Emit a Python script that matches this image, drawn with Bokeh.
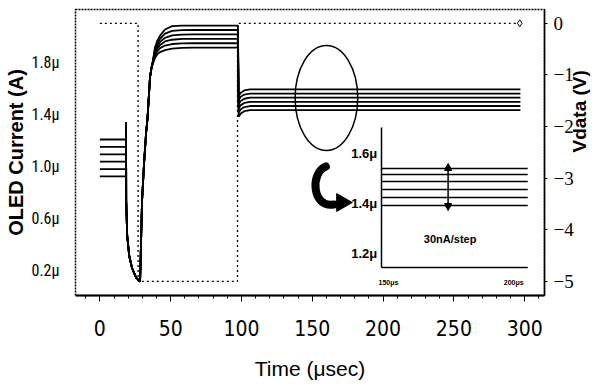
import math
from bokeh.plotting import figure
from bokeh.models import Range1d, LinearAxis, FixedTicker, Arrow, NormalHead
from bokeh.core.properties import value
from bokeh.embed import file_html
from bokeh.resources import INLINE

COND_X = "DejaVu Sans Condensed"
COND_L = "Roboto Condensed"
COND_R = "Noto Sans Condensed"
SANS = "Liberation Sans"

# ---------------- data (time in usec, current in uA, Vdata in V) ----------------
x_ticks = [0, 50, 100, 150, 200, 250, 300]
i_ticks = [0.2, 0.6, 1.0, 1.4, 1.8]
i_tick_labels = ["0.2\u03bc", "0.6\u03bc", "1.0\u03bc", "1.4\u03bc", "1.8\u03bc"]
v_ticks = [0, -1, -2, -3, -4, -5]

# Vdata (dotted trace, right axis)
vd_t = [0.0, 27.0, 27.0, 97.2, 97.2, 296.5]
vd_v = [0.0, 0.0, -5.0, -5.0, 0.0, 0.0]

# OLED current, 6 curves (bottom -> top)
stub_levels = [0.921, 0.978, 1.035, 1.092, 1.149, 1.206]
stub_t = [0.0, 18.5]
fall_t = [18.5, 18.6, 19.3, 20.7, 22.8, 25.6, 28.4]
fall_i = [1.337, 0.736, 0.466, 0.312, 0.212, 0.142, 0.111]
rise_t = [29.0, 29.8, 31.2, 32.6, 33.7, 35.4, 36.5]
rise_i = [0.38, 0.736, 1.02, 1.25, 1.375, 1.684, 1.76]
tail_t = [37.5, 38.9, 40.5, 42.5, 46.0, 51.0, 58.0, 66.0, 97.5]
tail_i = [
    [1.790, 1.835, 1.862, 1.880, 1.895, 1.906, 1.912, 1.914, 1.914],
    [1.797, 1.850, 1.885, 1.910, 1.930, 1.942, 1.947, 1.948, 1.948],
    [1.803, 1.866, 1.905, 1.935, 1.962, 1.975, 1.981, 1.982, 1.982],
    [1.807, 1.882, 1.925, 1.958, 1.990, 2.008, 2.015, 2.016, 2.016],
    [1.811, 1.898, 1.945, 1.982, 2.022, 2.043, 2.049, 2.050, 2.050],
    [1.815, 1.915, 1.965, 2.007, 2.054, 2.080, 2.084, 2.084, 2.084],
]
drop_t = [98.0, 99.5, 102.0, 106.0, 297.0]
drop_i = [
    [1.382, 1.407, 1.424, 1.432, 1.432],
    [1.414, 1.439, 1.456, 1.464, 1.464],
    [1.446, 1.471, 1.488, 1.496, 1.496],
    [1.478, 1.503, 1.520, 1.528, 1.528],
    [1.510, 1.535, 1.552, 1.560, 1.560],
    [1.542, 1.567, 1.584, 1.592, 1.592],
]

# inset (zoom of the settled region)
inset_levels = [1.392, 1.424, 1.456, 1.488, 1.516, 1.540]
inset_span = [147.2, 205.6]
inset_i_ticks = [1.6, 1.4, 1.2]
inset_i_labels = ["1.6\u03bc", "1.4\u03bc", "1.2\u03bc"]
inset_t_ticks = [150, 200]
inset_t_labels = ["150\u03bcs", "200\u03bcs"]
inset_note = "30nA/step"

# ---------------- figure ----------------
p = figure(width=603, height=384,
           x_range=Range1d(-17.2, 314.0), y_range=Range1d(0.0035, 2.208),
           output_backend="svg", toolbar_location=None,
           min_border_left=75, min_border_right=56, min_border_top=9, min_border_bottom=89)
p.extra_y_ranges = {"vdata": Range1d(-5.275, 0.267), "iy": Range1d(1.032, 2.176)}
p.extra_x_ranges = {"ix": Range1d(25.0, 212.3)}
p.grid.visible = False
p.background_fill_color = "white"
p.border_fill_color = "white"
p.outline_line_color = "black"
p.outline_line_width = 1.5
p.outline_line_dash = "2 1"

xa = p.xaxis[0]
xa.ticker = FixedTicker(ticks=x_ticks, minor_ticks=list(range(-10, 311, 10)))
xa.axis_line_width = 2
xa.major_tick_out = 6
xa.major_tick_in = 0
xa.minor_tick_out = 3
xa.minor_tick_in = 0
xa.major_label_text_font = COND_X
xa.major_label_text_font_size = "21px"
xa.major_label_text_color = "black"
xa.major_label_standoff = 18
xa.axis_label = "Time (\u03bcsec)"
xa.axis_label_text_font = SANS
xa.axis_label_text_font_size = "21px"
xa.axis_label_text_font_style = "normal"
xa.axis_label_text_color = "black"
xa.axis_label_standoff = 18

ya = p.yaxis[0]
ya.ticker = FixedTicker(ticks=i_ticks, minor_ticks=[])
ya.major_label_overrides = {t: l for t, l in zip(i_ticks, i_tick_labels)}
ya.axis_line_color = None
ya.major_tick_out = 0
ya.major_tick_in = 0
ya.minor_tick_out = 0
ya.minor_tick_in = 0
ya.major_label_text_font = COND_L
ya.major_label_text_font_size = "16px"
ya.major_label_text_color = "black"
ya.major_label_standoff = 16
ya.axis_label = "OLED Current (A)"
ya.axis_label_text_font = SANS
ya.axis_label_text_font_size = "20px"
ya.axis_label_text_font_style = "bold"
ya.axis_label_text_color = "black"
ya.axis_label_standoff = 2

ra = LinearAxis(y_range_name="vdata", ticker=FixedTicker(ticks=v_ticks, minor_ticks=[]))
ra.axis_line_width = 1.5
ra.major_tick_out = 3
ra.major_tick_in = 0
ra.minor_tick_out = 0
ra.minor_tick_in = 0
ra.major_label_text_font = COND_R
ra.major_label_text_font_size = "19px"
ra.major_label_text_color = "black"
ra.major_label_standoff = 6
ra.axis_label = "Vdata (V)"
ra.axis_label_text_font = SANS
ra.axis_label_text_font_size = "19px"
ra.axis_label_text_font_style = "bold"
ra.axis_label_text_color = "black"
ra.axis_label_standoff = 3
ra.axis_label_orientation = math.pi / 2
p.add_layout(ra, "right")

# Vdata dotted trace
p.line(vd_t, vd_v, y_range_name="vdata", line_color="black", line_width=1.3, line_dash="2 3")
p.scatter([vd_t[-1]], [vd_v[-1]], y_range_name="vdata", marker="diamond", size=7,
          fill_color="white", line_color="black", line_width=1)

# current curves
for k in range(6):
    t = stub_t + fall_t + rise_t + tail_t + drop_t
    i = [stub_levels[k], stub_levels[k]] + fall_i + rise_i + tail_i[k] + drop_i[k]
    p.line(t, i, line_color="black", line_width=1.8)

# ellipse highlight
p.ellipse(x=[160.0], y=[1.526], width=44.2, height=0.809,
          fill_color=None, line_color="black", line_width=1.5)

# curved arrow
p.bezier(x0=[159.6], y0=[0.998], x1=[165.3], y1=[0.705],
         cx0=[148.4], cy0=[0.951], cx1=[149.8], cy1=[0.674],
         line_color="black", line_width=8, line_cap="round")
p.scatter([170.9], [0.720], marker="triangle", size=18, angle=-math.pi / 2,
          fill_color="black", line_color="black")

# inset
p.line([inset_span[0], inset_span[0]], [1.144, 1.704], x_range_name="ix", y_range_name="iy",
       line_color="black", line_width=1.5)
p.line(inset_span, [1.144, 1.144], x_range_name="ix", y_range_name="iy",
       line_color="black", line_width=1.5)
for lv in inset_levels:
    p.line(inset_span, [lv, lv], x_range_name="ix", y_range_name="iy",
           line_color="black", line_width=1.5)
p.text(x=[145.5] * 3, y=inset_i_ticks, text=inset_i_labels, x_range_name="ix", y_range_name="iy",
       text_align="right", text_baseline="middle", text_font=value(SANS),
       text_font_size="13px", text_font_style="bold", text_color="black")
p.text(x=inset_t_ticks, y=[1.084] * 2, text=inset_t_labels, x_range_name="ix", y_range_name="iy",
       text_align="center", text_baseline="middle", text_font=value(SANS),
       text_font_size="7px", text_font_style="bold", text_color="black")
p.add_layout(Arrow(x_start=173.8, y_start=1.372, x_end=173.8, y_end=1.56,
                   x_range_name="ix", y_range_name="iy", line_width=1.5,
                   start=NormalHead(size=7, fill_color="black"),
                   end=NormalHead(size=7, fill_color="black")))
p.scatter([173.8, 173.8], [inset_levels[-1], inset_levels[0]], x_range_name="ix", y_range_name="iy",
          marker="circle", size=5, color="black")
p.text(x=[174.6], y=[1.26], text=[inset_note], x_range_name="ix", y_range_name="iy",
       text_align="center", text_baseline="middle", text_font=value(SANS),
       text_font_size="11px", text_font_style="bold", text_color="black")

open("out.html", "w").write(file_html(p, INLINE))
